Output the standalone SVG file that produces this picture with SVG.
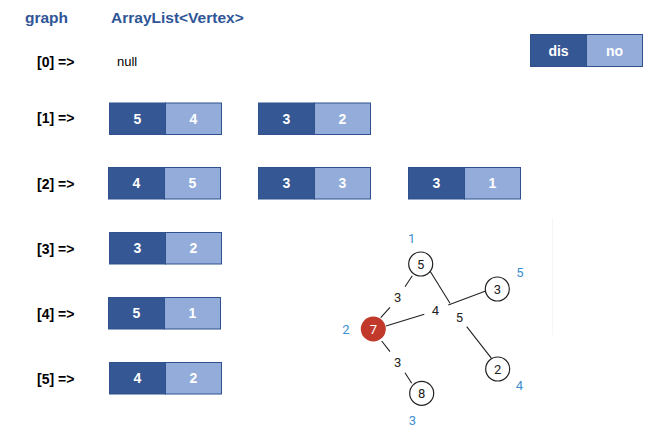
<svg xmlns="http://www.w3.org/2000/svg" width="663" height="436" viewBox="0 0 663 436">
<style>
.hdr{font-family:"Liberation Sans",Arial,sans-serif;font-weight:bold;font-size:15.5px;fill:#2F5597}
.lbl{font-family:"Liberation Sans",Arial,sans-serif;font-weight:bold;font-size:14px;fill:#000}
.null{font-family:"Liberation Sans",Arial,sans-serif;font-size:13px;fill:#000}
.dk{fill:#355794;stroke:#2F528F;stroke-width:1}
.lt{fill:#93ACD9;stroke:#2F528F;stroke-width:1}
.bt{font-family:"Liberation Sans",Arial,sans-serif;font-weight:bold;font-size:14px;fill:#fff;text-anchor:middle;dominant-baseline:central}
.node{fill:#fff;stroke:#222;stroke-width:1.2}
.nt{font-family:Roboto,"DejaVu Sans",sans-serif;font-size:13px;fill:#222;text-anchor:middle;dominant-baseline:central}
.bl{font-family:Roboto,"DejaVu Sans",sans-serif;font-size:13px;fill:#3D8FD1;text-anchor:middle;dominant-baseline:central}
.edge{stroke:#222;stroke-width:1.1;fill:none}
</style>
<rect width="663" height="436" fill="#fff"/>
<text class="hdr" x="25" y="23">graph</text>
<text class="hdr" x="111" y="23">ArrayList&lt;Vertex&gt;</text>

<g id="legend">
<rect class="dk" x="530.5" y="34.5" width="56" height="32"/>
<rect class="lt" x="586.5" y="34.5" width="56" height="32"/>
<text class="bt" x="558.5" y="50.5">dis</text>
<text class="bt" x="614.5" y="50.5">no</text>
</g>

<g id="row0">
<text class="lbl" x="37" y="67">[0] =&gt;</text>
<text class="null" x="117" y="66">null</text>
</g>

<g id="row1">
<text class="lbl" x="37" y="123">[1] =&gt;</text>
<rect class="dk" x="109.5" y="103" width="56" height="31.5"/><rect class="lt" x="165.5" y="103" width="56" height="31.5"/>
<text class="bt" x="137.5" y="118.5">5</text><text class="bt" x="193.5" y="118.5">4</text>
<rect class="dk" x="258.5" y="103" width="56" height="31.5"/><rect class="lt" x="314.5" y="103" width="56" height="31.5"/>
<text class="bt" x="286.5" y="118.5">3</text><text class="bt" x="342.5" y="118.5">2</text>
</g>

<g id="row2">
<text class="lbl" x="37" y="189">[2] =&gt;</text>
<rect class="dk" x="108.5" y="167.5" width="56" height="31.5"/><rect class="lt" x="164.5" y="167.5" width="56" height="31.5"/>
<text class="bt" x="136.5" y="183">4</text><text class="bt" x="192.5" y="183">5</text>
<rect class="dk" x="258.5" y="167.5" width="56" height="31.5"/><rect class="lt" x="314.5" y="167.5" width="56" height="31.5"/>
<text class="bt" x="286.5" y="183">3</text><text class="bt" x="342.5" y="183">3</text>
<rect class="dk" x="408.5" y="167.5" width="56" height="31.5"/><rect class="lt" x="464.5" y="167.5" width="56" height="31.5"/>
<text class="bt" x="436.5" y="183">3</text><text class="bt" x="492.5" y="183">1</text>
</g>

<g id="row3">
<text class="lbl" x="37" y="254">[3] =&gt;</text>
<rect class="dk" x="109.5" y="232.5" width="56" height="31.5"/><rect class="lt" x="165.5" y="232.5" width="56" height="31.5"/>
<text class="bt" x="137.5" y="248">3</text><text class="bt" x="193.5" y="248">2</text>
</g>

<g id="row4">
<text class="lbl" x="37" y="319">[4] =&gt;</text>
<rect class="dk" x="108.5" y="297.5" width="56" height="31.5"/><rect class="lt" x="164.5" y="297.5" width="56" height="31.5"/>
<text class="bt" x="136.5" y="313">5</text><text class="bt" x="192.5" y="313">1</text>
</g>

<g id="row5">
<text class="lbl" x="37" y="384">[5] =&gt;</text>
<rect class="dk" x="109.5" y="362.5" width="56" height="31.5"/><rect class="lt" x="165.5" y="362.5" width="56" height="31.5"/>
<text class="bt" x="137.5" y="378">4</text><text class="bt" x="193.5" y="378">2</text>
</g>

<line x1="552.5" y1="218" x2="552.5" y2="335" stroke="#f5f5f5" stroke-width="1"/>

<g id="connectors">
<path class="edge" d="M412.3,275.7 L405,286.7 M390,307.3 L380.7,317.7"/>
<path class="edge" d="M386,326 L424.3,314.3 M448.3,305 L485.7,291"/>
<path class="edge" d="M430,271 L450,303.3 M466.7,326.7 L492.3,359.3"/>
<path class="edge" d="M381.7,341 L390,351.7 M405,372.7 L411.7,383.3"/>
<text class="nt" x="397.7" y="297.3">3</text>
<text class="nt" x="435.3" y="310">4</text>
<text class="nt" x="459.3" y="317.3">5</text>
<text class="nt" x="397.7" y="362.7">3</text>
</g>

<g id="n1"><circle class="node" cx="420.7" cy="264" r="12"/><text class="nt" x="420.7" y="264">5</text><text class="bl" x="411.7" y="238.3">1</text></g>
<g id="n5"><circle class="node" cx="497.3" cy="289" r="12"/><text class="nt" x="497.3" y="289">3</text><text class="bl" x="520" y="272.7">5</text></g>
<g id="n2"><circle cx="373.3" cy="329" r="12.5" fill="#C0392B"/><text class="nt" x="373.3" y="329" style="fill:#fff">7</text><text class="bl" x="346" y="329.3">2</text></g>
<g id="n4"><circle class="node" cx="497.7" cy="369" r="12"/><text class="nt" x="497.7" y="369">2</text><text class="bl" x="519.3" y="385.7">4</text></g>
<g id="n3"><circle class="node" cx="421.7" cy="393.3" r="12"/><text class="nt" x="421.7" y="393.3">8</text><text class="bl" x="412.3" y="420">3</text></g>
</svg>
